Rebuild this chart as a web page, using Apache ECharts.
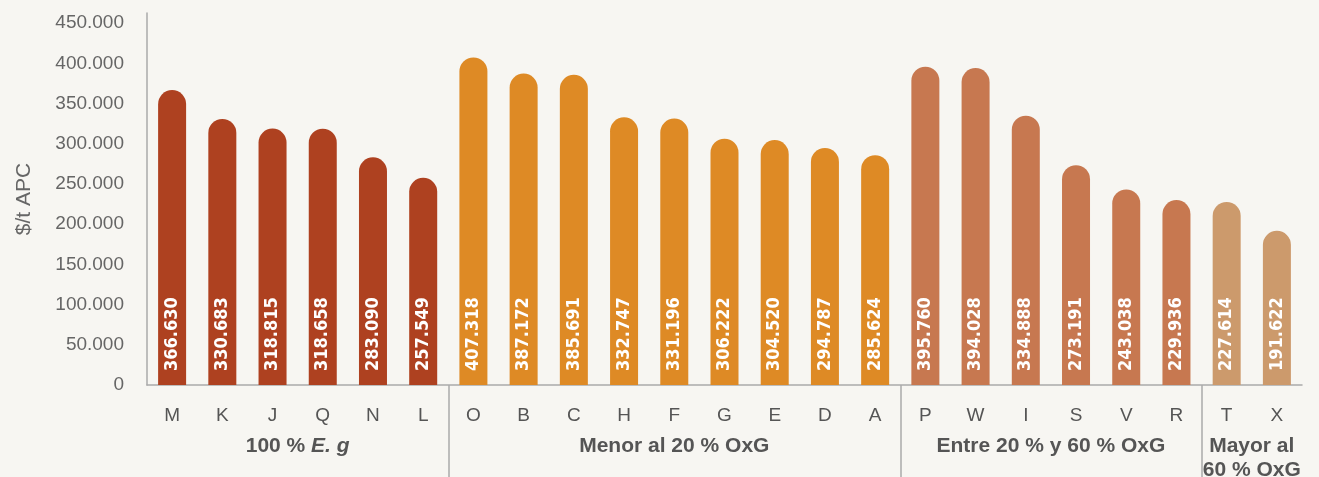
<!DOCTYPE html>
<html>
<head>
<meta charset="utf-8">
<script src="https://cdn.jsdelivr.net/npm/echarts@6/dist/echarts.min.js"></script>
<style>
  html, body { margin: 0; padding: 0; background: #f7f6f2; }
  #chart { width: 1319px; height: 477px; }
</style>
</head>
<body>
<div id="chart"></div>
<script>
// datos
const categories = ['M', 'K', 'J', 'Q', 'N', 'L', 'O', 'B', 'C', 'H', 'F', 'G', 'E', 'D', 'A', 'P', 'W', 'I', 'S', 'V', 'R', 'T', 'X']
const values = [366630, 330683, 318815, 318658, 283090, 257549,
  407318, 387172, 385691, 332747, 331196, 306222, 304520, 294787, 285624,
  395760, 394028, 334888, 273191, 243038, 229936,
  227614, 191622]
const groupNames = ['100 % {i|E. g}', 'Menor al 20 % OxG', 'Entre 20 % y 60 % OxG', 'Mayor al\n60 % OxG']
const groupSizes = [6, 9, 6, 2]
const groupColors = ['#ae4120', '#de8a25', '#c77850', '#cc9a6c']
const yTicks = [0, 50000, 100000, 150000, 200000, 250000, 300000, 350000, 400000, 450000]

// límites y centros de grupo
const bounds = []
const centers = []
const barColors = []
let acc = 0
groupSizes.forEach((n, g) => {
  centers.push(acc + n / 2)
  for (let i = 0; i < n; i++) barColors.push(groupColors[g])
  acc += n
  if (acc < categories.length) bounds.push(acc)
})

const fmt = v => String(v).replace(/\B(?=(\d{3})+(?!\d))/g, '.')

const chart = echarts.init(document.getElementById('chart'))

chart.setOption({
  backgroundColor: '#f7f6f2',
  animation: false,
  grid: { left: 147, right: 17, top: 13, bottom: 92, outerBoundsMode: 'none', containLabel: false },
  xAxis: [
    {
      type: 'category',
      data: categories,
      axisLine: { lineStyle: { color: '#aaa', width: 1.5 } },
      axisTick: { show: false },
      axisLabel: {
        color: '#555',
        fontSize: 19,
        fontFamily: 'Liberation Sans',
        margin: 21
      }
    },
    {
      type: 'value',
      min: 0,
      max: categories.length,
      position: 'bottom',
      axisLine: { show: false },
      splitLine: { show: false },
      axisTick: {
        show: true,
        customValues: bounds,
        length: 92,
        lineStyle: { color: '#aaa', width: 1.5 }
      },
      axisLabel: {
        customValues: centers,
        margin: 49,
        color: '#555',
        fontSize: 21,
        fontWeight: 'bold',
        fontFamily: 'Liberation Sans',
        lineHeight: 24,
        verticalAlign: 'top',
        formatter: v => groupNames[centers.indexOf(v)] || '',
        rich: {
          i: { fontStyle: 'italic', fontWeight: 'bold', fontSize: 21, color: '#555', fontFamily: 'Liberation Sans' }
        }
      }
    }
  ],
  yAxis: {
    type: 'value',
    min: 0,
    max: 462500,
    interval: 50000,
    name: '$/t APC',
    nameLocation: 'middle',
    nameGap: 112,
    nameRotate: 90,
    nameTextStyle: { color: '#666', fontSize: 21, fontFamily: 'Liberation Sans' },
    axisLine: { show: true, lineStyle: { color: '#aaa', width: 1.5 } },
    axisTick: { show: false },
    splitLine: { show: false },
    axisLabel: {
      color: '#666',
      fontSize: 19,
      fontFamily: 'Liberation Sans',
      margin: 23,
      formatter: v => yTicks.includes(v) ? fmt(v) : ''
    }
  },
  series: [
    {
      type: 'bar',
      xAxisIndex: 0,
      barWidth: 28,
      data: values.map((v, i) => ({ value: v, itemStyle: { color: barColors[i] } })),
      itemStyle: { borderRadius: [14, 14, 0, 0] },
      label: {
        show: true,
        position: 'insideBottom',
        rotate: 90,
        align: 'left',
        verticalAlign: 'middle',
        distance: 14,
        color: '#fff',
        fontSize: 18,
        fontWeight: 'bold',
        fontFamily: 'DejaVu Sans Condensed',
        formatter: p => fmt(p.value)
      }
    }
  ]
})
</script>
</body>
</html>
